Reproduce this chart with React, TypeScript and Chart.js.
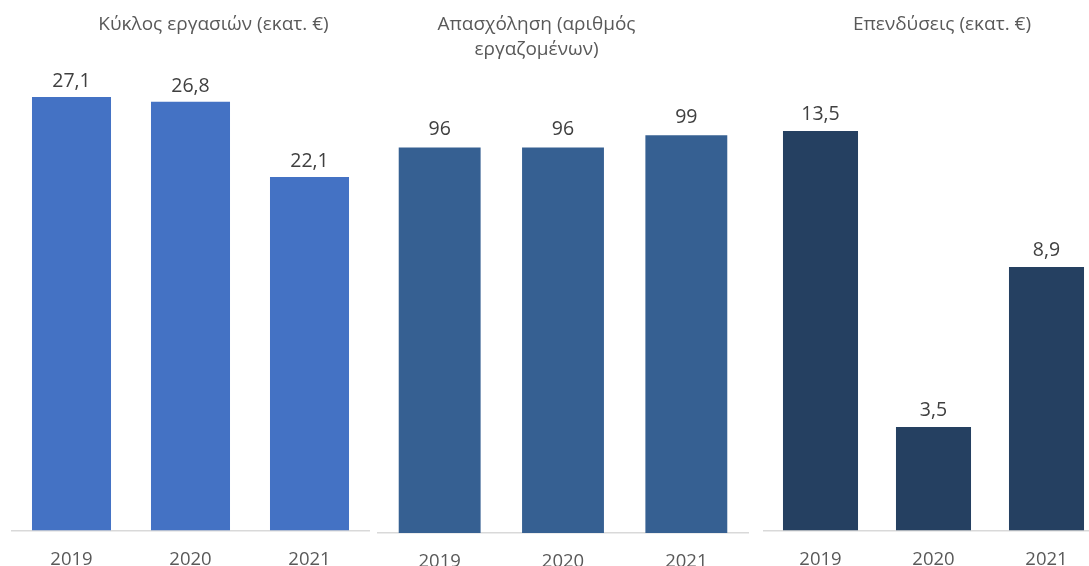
import React, { useEffect, useRef } from 'react';
import { Chart, registerables } from 'chart.js';

Chart.register(...registerables);

const years = ['2019', '2020', '2021'];
const turnover = [27.1, 26.8, 22.1];
const employment = [96, 96, 99];
const investment = [13.5, 3.5, 8.9];
const titleTurnover = ['Κύκλος εργασιών (εκατ. €)'];
const titleEmployment = ['Απασχόληση (αριθμός', 'εργαζομένων)'];
const titleInvestment = ['Επενδύσεις (εκατ. €)'];

const FONT = '"Open Sans", "Noto Sans", sans-serif';

type PanelCfg = {
  values: number[];
  color: string;
  yMax: number;
  canvasLeft: number;
  canvasWidth: number;
  padLeft: number;
  padRight: number;
  padTop: number;
  axisHeight: number;
  labelOffset: number;
  decimals: number;
};

const panels: PanelCfg[] = [
  { values: turnover, color: '#4472C4', yMax: 30, canvasLeft: 0, canvasWidth: 380, padLeft: 12, padRight: 11, padTop: 50.5, axisHeight: 35.5, labelOffset: 10, decimals: 1 },
  { values: employment, color: '#366092', yMax: 120, canvasLeft: 372, canvasWidth: 384, padLeft: 6, padRight: 8, padTop: 51, axisHeight: 33, labelOffset: 12, decimals: 0 },
  { values: investment, color: '#254061', yMax: 16, canvasLeft: 756, canvasWidth: 347, padLeft: 8, padRight: 0, padTop: 56.9, axisHeight: 35.5, labelOffset: 11, decimals: 1 },
];

const titles = [
  { lines: titleTurnover, cx: 213.5 },
  { lines: titleEmployment, cx: 536.5 },
  { lines: titleInvestment, cx: 942 },
];

function makeLabelPlugin(decimals: number, offset: number) {
  return {
    id: 'valueLabels',
    afterDatasetsDraw(chart: any) {
      const ctx = chart.ctx;
      const meta = chart.getDatasetMeta(0);
      const data = chart.data.datasets[0].data as number[];
      ctx.save();
      ctx.font = `19.5px ${FONT}`;
      ctx.fillStyle = '#404040';
      ctx.textAlign = 'center';
      ctx.textBaseline = 'alphabetic';
      meta.data.forEach((el: any, i: number) => {
        const txt = data[i].toFixed(decimals).replace('.', ',');
        ctx.fillText(txt, el.x, el.y - offset);
      });
      ctx.restore();
    },
  };
}

function Panel({ cfg }: { cfg: PanelCfg }) {
  const ref = useRef<HTMLCanvasElement | null>(null);
  useEffect(() => {
    if (!ref.current) return;
    const chart = new Chart(ref.current, {
      type: 'bar',
      data: {
        labels: years,
        datasets: [
          {
            data: cfg.values,
            backgroundColor: cfg.color,
            borderWidth: 0,
            categoryPercentage: 1,
            barPercentage: 0.664,
          },
        ],
      },
      options: {
        responsive: false,
        animation: false,
        devicePixelRatio: 1,
        layout: { padding: { left: cfg.padLeft, right: cfg.padRight, top: cfg.padTop, bottom: 0 } },
        plugins: { legend: { display: false }, tooltip: { enabled: false }, title: { display: false } },
        scales: {
          x: {
            grid: { display: false, drawTicks: false },
            border: { display: true, color: '#d9d9d9', width: 1.5 },
            ticks: { color: '#595959', font: { family: FONT, size: 18.5 }, padding: 18 },
            afterFit: (scale: any) => {
              scale.height = cfg.axisHeight;
            },
          },
          y: { display: false, min: 0, max: cfg.yMax },
        },
      },
      plugins: [makeLabelPlugin(cfg.decimals, cfg.labelOffset)],
    });
    return () => chart.destroy();
  }, [cfg]);
  return (
    <canvas
      ref={ref}
      width={cfg.canvasWidth}
      height={566}
      style={{ position: 'absolute', left: cfg.canvasLeft, top: 0, width: cfg.canvasWidth, height: 566 }}
    />
  );
}

export default function App() {
  return (
    <div
      style={{
        position: 'fixed',
        left: 0,
        top: 0,
        width: 1089,
        height: 566,
        overflow: 'hidden',
        background: '#ffffff',
      }}
    >
      {panels.map((p, i) => (
        <Panel key={i} cfg={p} />
      ))}
      {titles.map((t, i) => (
        <div
          key={'t' + i}
          style={{
            position: 'absolute',
            left: t.cx,
            top: 11,
            transform: 'translateX(-50%)',
            whiteSpace: 'nowrap',
            textAlign: 'center',
            fontFamily: FONT,
            fontSize: 19,
            lineHeight: '25px',
            color: '#595959',
          }}
        >
          {t.lines.map((l, j) => (
            <div key={j}>{l}</div>
          ))}
        </div>
      ))}
    </div>
  );
}
